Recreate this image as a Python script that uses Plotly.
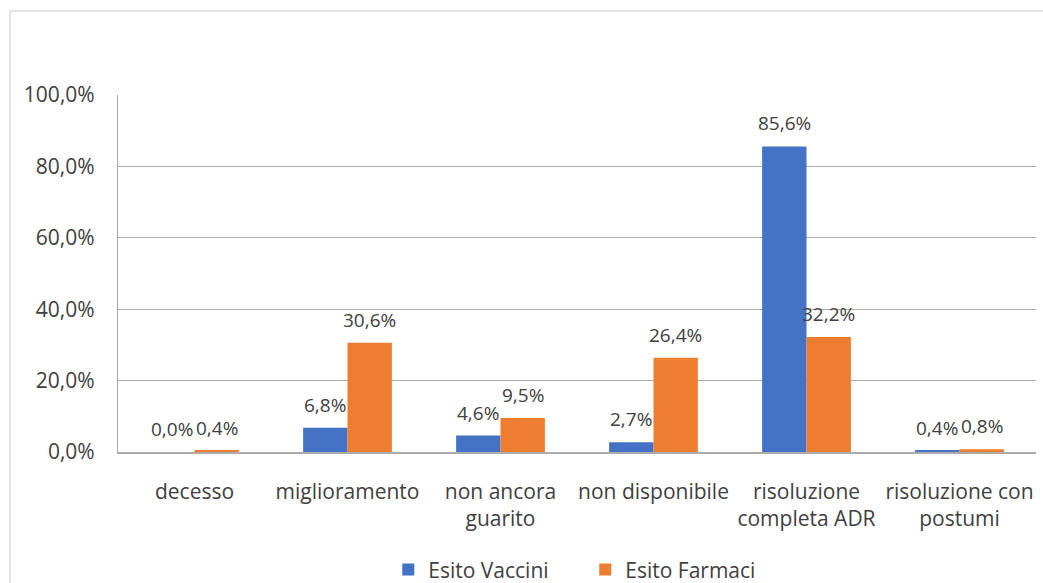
import plotly.graph_objects as go

categories = [
    "decesso",
    "miglioramento",
    "non ancora<br>guarito",
    "non disponibile",
    "risoluzione<br>completa ADR",
    "risoluzione con<br>postumi",
]
vaccini = [0.0, 6.8, 4.6, 2.7, 85.6, 0.4]
farmaci = [0.4, 30.6, 9.5, 26.4, 32.2, 0.8]
y_ticks = [0, 20, 40, 60, 80, 100]

BLUE = "#4472C4"
ORANGE = "#ED7D31"
GRID = "#ABABAB"
TEXT = "#404040"
FONT = "Open Sans"


def fmt(v):
    return f"{v:.1f}".replace(".", ",") + "%"


fig = go.Figure()
fig.add_trace(go.Bar(name="Esito Vaccini", x=categories, y=vaccini,
                     marker_color=BLUE, marker_line_width=0))
fig.add_trace(go.Bar(name="Esito Farmaci", x=categories, y=farmaci,
                     marker_color=ORANGE, marker_line_width=0))

bargap = 0.42
half = (1 - bargap) / 4  # centre offset of each bar within its group

annotations = []
for i in range(len(categories)):
    for vals, dx in ((vaccini, -half), (farmaci, half)):
        annotations.append(dict(
            x=i + dx, y=vals[i], xref="x", yref="y",
            text=fmt(vals[i]), showarrow=False,
            yanchor="bottom", yshift=8,
            font=dict(family=FONT, size=19, color=TEXT),
        ))

fig.update_layout(
    width=1043, height=583,
    margin=dict(l=118, r=7, t=95, b=131, autoexpand=False),
    paper_bgcolor="white", plot_bgcolor="white",
    barmode="group", bargap=bargap, bargroupgap=0,
    font=dict(family=FONT, size=21, color=TEXT),
    showlegend=True,
    legend=dict(orientation="h", x=0.509, xanchor="center", y=-0.33, yanchor="middle",
                font=dict(family=FONT, size=21, color=TEXT),
                itemwidth=30, entrywidthmode="pixels", entrywidth=152),
    annotations=annotations,
    shapes=[
        dict(type="line", xref="paper", yref="paper",
             x0=(10 - 118) / 918, x1=(1043 - 118) / 918,
             y0=(452 - 11) / 357, y1=(452 - 11) / 357,
             line=dict(color="#C8C8C8", width=1)),
        dict(type="line", xref="paper", yref="paper",
             x0=(10 - 118) / 918, x1=(10 - 118) / 918,
             y0=(452 - 11) / 357, y1=(452 - 600) / 357,
             line=dict(color="#C8C8C8", width=1)),
    ],
)

fig.update_xaxes(
    showgrid=False, showline=True, linecolor=GRID, linewidth=1.5,
    ticks="", tickfont=dict(family=FONT, size=21, color=TEXT),
    ticklabelstandoff=20,
)
fig.update_yaxes(
    range=[0, 100], tickvals=y_ticks,
    ticktext=[fmt(v) for v in y_ticks],
    showgrid=True, gridcolor=GRID, gridwidth=1.2,
    showline=True, linecolor=GRID, linewidth=1.2,
    zeroline=False, ticks="", ticklen=0,
    tickfont=dict(family=FONT, size=21, color=TEXT),
    ticklabelstandoff=18,
)

fig.write_html("out.html")
